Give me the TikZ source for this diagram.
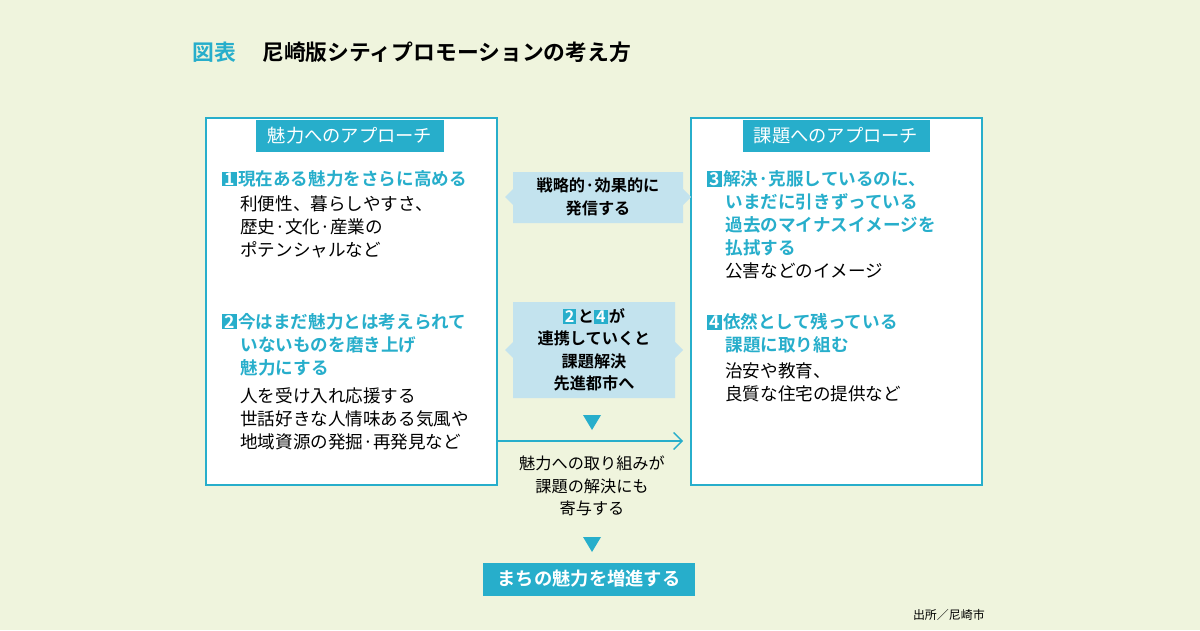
\documentclass[tikz,border=0pt]{standalone}
\usepackage{fontspec}
\setmainfont{Noto Sans CJK JP}[BoldFont={* Bold}]
\usetikzlibrary{arrows.meta,positioning}
\definecolor{bgc}{HTML}{EFF4DD}
\definecolor{tealc}{HTML}{27AECB}
\definecolor{paleb}{HTML}{C3E3EE}
\newcommand\badge[1]{{\setlength{\fboxsep}{0.8pt}\colorbox{tealc}{\textcolor{white}{\makebox[0.7em]{#1}}}}\hspace{1pt}}
\tikzset{
  panel/.style={draw=tealc, line width=1.2pt, fill=white},
  tab/.style={fill=tealc, text=white, font=\fontsize{13}{16}\selectfont, inner xsep=8pt, minimum height=32*0.025cm},
  head/.style={anchor=north west, inner sep=0pt, align=left, text=tealc, font=\bfseries\fontsize{12.5}{16.4}\selectfont},
  body/.style={anchor=north west, inner sep=0pt, align=left, font=\fontsize{12.5}{16.4}\selectfont},
  mid/.style={inner sep=0pt, align=center, font=\bfseries\fontsize{11.5}{16}\selectfont},
  tri/.style={fill=tealc}
}
\begin{document}
\begin{tikzpicture}[x=0.025cm,y=-0.025cm]
\fill[bgc] (0,0) rectangle (1200,630);
\useasboundingbox (0,0) rectangle (1200,630);
% title
\node[anchor=west, inner sep=0pt, text=tealc, font=\bfseries\fontsize{15.5}{18}\selectfont] (ttl) at (192,52) {図表};
\node[anchor=west, inner sep=0pt, font=\bfseries\fontsize{15.5}{18}\selectfont] (ttl2) at (262,52) {尼崎版シティプロモーションの考え方};
% panels
\draw[panel] (206,118) rectangle (497,485);
\draw[panel] (691,118) rectangle (982,485);
\node[tab] (ltab) at (350,136) {魅力へのアプローチ};
\node[tab] (rtab) at (836,136) {課題へのアプローチ};
% left texts
\node[head] (h1) at (222,170) {\badge{1}現在ある魅力をさらに高める};
\node[body] (b1) at (240,195) {利便性、暮らしやすさ、\\歴史·文化·産業の\\ポテンシャルなど};
\node[head] (h2) at (222,313) {\badge{2}今はまだ魅力とは考えられて\\\hspace{13pt}いないものを磨き上げ\\\hspace{13pt}魅力にする};
\node[body] (b2) at (240,387) {人を受け入れ応援する\\世話好きな人情味ある気風や\\地域資源の発掘·再発見など};
% right texts
\node[head] (h3) at (707,170) {\badge{3}解決·克服しているのに、\\\hspace{13pt}いまだに引きずっている\\\hspace{13pt}過去のマイナスイメージを\\\hspace{13pt}払拭する};
\node[body] (b3) at (725,262) {公害などのイメージ};
\node[head] (h4) at (707,313) {\badge{4}依然として残っている\\\hspace{13pt}課題に取り組む};
\node[body] (b4) at (725,362) {治安や教育、\\良質な住宅の提供など};
% middle
\fill[paleb] (505,197) -- (513,189) -- (513,172) -- (683,172) -- (683,189) -- (691,197) -- (683,205) -- (683,223) -- (513,223) -- (513,205) -- cycle;
\node[mid] (m1) at (598,197) {戦略的·効果的に\\発信する};
\fill[paleb] (505,350) -- (513,342) -- (513,302) -- (675,302) -- (675,342) -- (683,350) -- (675,358) -- (675,398) -- (513,398) -- (513,358) -- cycle;
\node[mid] (m2) at (594,350) {\badge{2}と\badge{4}が\\連携していくと\\課題解決\\先進都市へ};
\fill[tri] (583,415) -- (601,415) -- (592,430) -- cycle;
\coordinate (a1) at (497,441);
\coordinate (a2) at (683,441);
\draw[tealc, line width=1pt, -{Straight Barb[length=6pt,width=12pt]}] (a1) -- (a2);
\node[mid, font=\fontsize{11.5}{16}\selectfont] (m3) at (592,486) {魅力への取り組みが\\課題の解決にも\\寄与する};
\fill[tri] (583,537) -- (601,537) -- (592,552) -- cycle;
\node[fill=tealc, text=white, font=\bfseries\fontsize{13}{16}\selectfont, minimum width=212*0.025cm, minimum height=33*0.025cm] (goal) at (589,579) {まちの魅力を増進する};
\node[anchor=east, inner sep=0pt, font=\fontsize{8.5}{10}\selectfont] (src) at (985,615) {出所／尼崎市};
\end{tikzpicture}
\end{document}
